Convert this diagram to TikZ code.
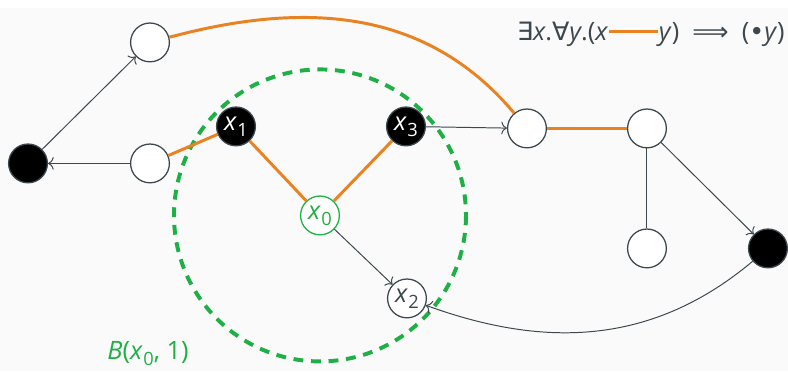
\documentclass[tikz,border=0pt]{standalone}
\usepackage{fontspec}
\setmainfont{Open Sans}
\newfontfamily\symfont{DejaVu Sans}
\usetikzlibrary{arrows.meta}

\definecolor{edgegray}{RGB}{60,72,78}
\definecolor{pathorange}{RGB}{234,130,34}
\definecolor{ballgreen}{RGB}{30,176,68}
\definecolor{paper}{RGB}{250,250,250}

% variable with a subscript index
\newcommand{\var}[1]{\textit{x}\kern0.3pt\raisebox{-0.45ex}{\fontsize{13}{13}\selectfont #1}}

\begin{document}
\begin{tikzpicture}[
        x=0.025cm, y=-0.025cm,
        font=\fontsize{18}{20}\selectfont,
        vertex/.style={circle, draw=edgegray, line width=0.9pt, fill=white, minimum size=0.97cm, inner sep=0pt},
        filled/.style={vertex, fill=black, text=white},
        centre/.style={vertex, draw=ballgreen, text=ballgreen},
        link/.style={-{To[length=4pt,width=9pt]}, draw=edgegray, line width=0.7pt},
        plain/.style={draw=edgegray, line width=0.7pt},
        orange/.style={draw=pathorange, line width=2.1pt},
        ball/.style={draw=ballgreen, line width=2.8pt, dash pattern=on 7pt off 5.5pt}
    ]

    % page
    \fill[paper] (0,0) rectangle (788,363);

    % left part
    \node[filled] (l) at (28,155) {};
    \node[vertex] (t) at (150,34) {};
    \node[vertex] (m) at (150,155) {};

    % neighbourhood of x0
    \node[filled] (x1) at (236,118) {\var{1}};
    \node[filled] (x3) at (406,118) {\var{3}};
    \node[centre] (x0) at (320,207) {\var{0}};
    \node[vertex, text=edgegray] (x2) at (407,290) {\var{2}};

    % right part
    \node[vertex] (a) at (527,120) {};
    \node[vertex] (b) at (647,120) {};
    \node[vertex] (c) at (647,240) {};
    \node[filled] (d) at (768,240) {};

    % ball of radius 1
    \draw[ball] (x0.center) circle[radius=146];
    \node[text=ballgreen] (blabel) at (148,345) {\textit{B}(\var{0}, 1)};

    % plain edges
    \draw[link] (l) -- (t);
    \draw[link] (m) -- (l);
    \draw[link] (x3) -- (a);
    \draw[link] (x0) -- (x2);
    \draw[link] (b) -- (d);
    \draw[plain] (b) -- (c);
    \draw[link] (d) to[out=-140, in=-20] (x2);

    % orange edges
    \draw[orange] (t) to[out=15, in=130] (a);
    \draw[orange] (m) -- (x1);
    \draw[orange] (x1) -- (x0);
    \draw[orange] (x3) -- (x0);
    \draw[orange] (a) -- (b);

    % formula
    \node[anchor=base east, text=edgegray, inner sep=0pt] (formula) at (785,32)
        {{\symfont ∃}\textit{x}.{\symfont ∀}\textit{y}.(\textit{x}\kern1pt\textcolor{pathorange}{\rule[0.3em]{1.9em}{2.1pt}}\kern1pt\textit{y})\ \ {\symfont ⟹}\ \ ({\symfont •}\textit{y})};

\end{tikzpicture}
\end{document}
